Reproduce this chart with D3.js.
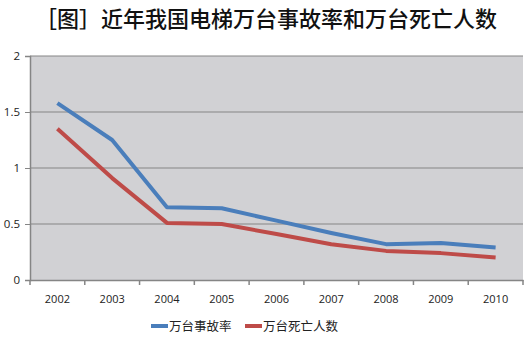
<!DOCTYPE html>
<html>
<head>
<meta charset="utf-8">
<script src="https://cdn.jsdelivr.net/npm/d3@7"></script>
<style>
  body { margin: 0; background: #fff; }
  svg { display: block; }
</style>
</head>
<body>
<svg id="chart" width="528" height="337"></svg>
<script>
// Elevator accident rate and fatalities per 10,000 units, 2002–2010
const years = ["2002", "2003", "2004", "2005", "2006", "2007", "2008", "2009", "2010"];
const accidentRate = [1.58, 1.25, 0.65, 0.64, 0.53, 0.42, 0.32, 0.33, 0.29];
const deathRate = [1.35, 0.91, 0.51, 0.50, 0.41, 0.32, 0.26, 0.24, 0.20];
const yTicks = [0, 0.5, 1, 1.5, 2];
const seriesNames = ["万台事故率", "万台死亡人数"];
const seriesColors = ["#4A7EBB", "#BE4B48"];

const svg = d3.select("#chart");
const font = "'Noto Sans CJK SC', 'Noto Sans', sans-serif";
const margin = { left: 30, right: 523, top: 56, bottom: 280 };

const x = d3.scaleBand().domain(years).range([margin.left, margin.right]);
const y = d3.scaleLinear().domain([0, 2]).range([margin.bottom, margin.top]);

// Title
svg.append("text")
  .attr("x", 266).attr("y", 27)
  .attr("text-anchor", "middle")
  .attr("font-family", font)
  .attr("font-size", 22)
  .attr("font-weight", 500)
  .attr("fill", "#111")
  .text("［图］近年我国电梯万台事故率和万台死亡人数");

// Plot background
svg.append("rect")
  .attr("x", margin.left).attr("y", margin.top)
  .attr("width", margin.right - margin.left)
  .attr("height", margin.bottom - margin.top)
  .attr("fill", "#D1D1D4");

// Horizontal gridlines
svg.append("g").selectAll("line")
  .data(yTicks.filter(d => d > 0))
  .join("line")
  .attr("x1", margin.left).attr("x2", margin.right)
  .attr("y1", d => y(d)).attr("y2", d => y(d))
  .attr("stroke", "#858585").attr("stroke-width", 1);

// Y axis
const yAxis = svg.append("g")
  .attr("transform", `translate(${margin.left},0)`)
  .call(d3.axisLeft(y).tickValues(yTicks).tickSize(5).tickFormat(d3.format("")));
yAxis.select(".domain").attr("stroke", "#858585").attr("stroke-width", 1.5);
yAxis.selectAll(".tick line").attr("stroke", "#858585");
yAxis.selectAll(".tick text")
  .attr("font-family", "'Open Sans', 'Noto Sans', sans-serif")
  .attr("font-size", 11.5).attr("fill", "#222").attr("x", -10);

// X axis with ticks at category boundaries
const xAxis = svg.append("g")
  .attr("transform", `translate(0,${margin.bottom})`)
  .call(d3.axisBottom(x).tickSize(0).tickPadding(15));
xAxis.select(".domain").attr("stroke", "#858585").attr("stroke-width", 1.5);
xAxis.selectAll(".tick text")
  .attr("font-family", "'Open Sans', 'Noto Sans', sans-serif")
  .attr("font-size", 11).attr("fill", "#222");
xAxis.selectAll(".boundary")
  .data(years.concat(["end"]))
  .join("line")
  .attr("class", "boundary")
  .attr("x1", (d, i) => margin.left + i * x.step())
  .attr("x2", (d, i) => margin.left + i * x.step())
  .attr("y1", 0).attr("y2", 5)
  .attr("stroke", "#858585").attr("stroke-width", 1.5);

// Lines
const line = d3.line()
  .x((d, i) => x(years[i]) + x.bandwidth() / 2)
  .y(d => y(d));

[accidentRate, deathRate].forEach((series, k) => {
  svg.append("path")
    .datum(series)
    .attr("d", line)
    .attr("fill", "none")
    .attr("stroke", seriesColors[k])
    .attr("stroke-width", 4)
    .attr("stroke-linejoin", "round");
});

// Legend
const legendItems = [{ x: 151 }, { x: 245 }];
legendItems.forEach((item, k) => {
  const g = svg.append("g").attr("transform", `translate(${item.x},326)`);
  g.append("line")
    .attr("x1", 0).attr("x2", 17).attr("y1", 0).attr("y2", 0)
    .attr("stroke", seriesColors[k]).attr("stroke-width", 4);
  g.append("text")
    .attr("x", 18).attr("y", 4.5)
    .attr("font-family", font)
    .attr("font-size", 12.5).attr("fill", "#222")
    .text(seriesNames[k]);
});
</script>
</body>
</html>
